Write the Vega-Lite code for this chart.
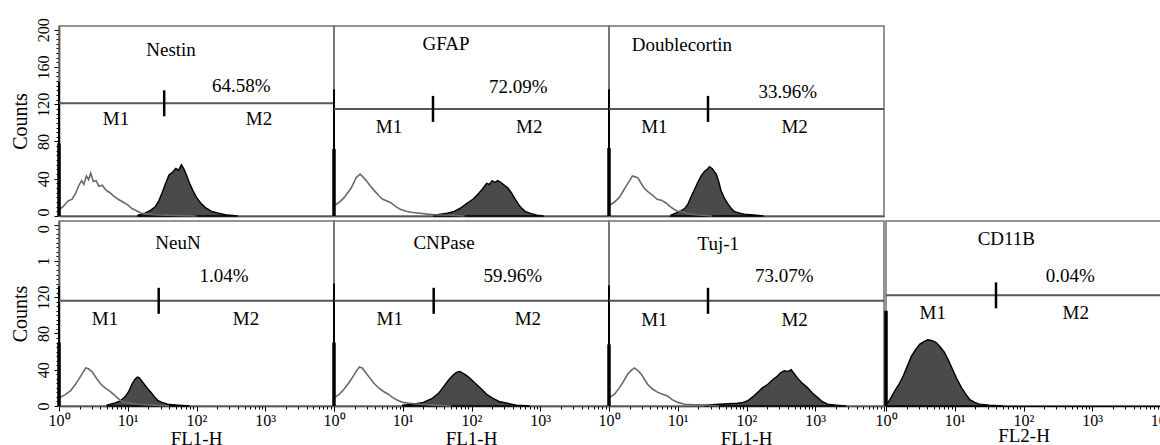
{
  "$schema": "https://vega.github.io/schema/vega-lite/v6.json",
  "background": "white",
  "padding": {"left": 10, "top": 17, "right": 0, "bottom": 0},
  "config": {
    "font": "Liberation Serif",
    "view": {"stroke": "#707070", "strokeWidth": 1.5},
    "axis": {"labelFont": "Liberation Serif", "titleFont": "Liberation Serif", "labelColor": "black", "titleColor": "black", "domainColor": "black", "tickColor": "black", "grid": false, "titleFontWeight": "normal", "labelOverlap": false, "labelBound": false, "labelFlush": false},
    "text": {"font": "Liberation Serif"}
  },
  "datasets": {
    "fc": [
      {"p":"Nestin","k":"c","d":0,"c":7},{"p":"Nestin","k":"c","d":0.06,"c":10},{"p":"Nestin","k":"c","d":0.13,"c":16},{"p":"Nestin","k":"c","d":0.19,"c":18},{"p":"Nestin","k":"c","d":0.24,"c":24},{"p":"Nestin","k":"c","d":0.29,"c":33},{"p":"Nestin","k":"c","d":0.33,"c":38},{"p":"Nestin","k":"c","d":0.36,"c":34},{"p":"Nestin","k":"c","d":0.4,"c":43},{"p":"Nestin","k":"c","d":0.43,"c":39},{"p":"Nestin","k":"c","d":0.46,"c":46},{"p":"Nestin","k":"c","d":0.5,"c":37},{"p":"Nestin","k":"c","d":0.54,"c":38},{"p":"Nestin","k":"c","d":0.58,"c":32},{"p":"Nestin","k":"c","d":0.63,"c":33},{"p":"Nestin","k":"c","d":0.68,"c":28},{"p":"Nestin","k":"c","d":0.74,"c":25},{"p":"Nestin","k":"c","d":0.8,"c":21},{"p":"Nestin","k":"c","d":0.86,"c":18},{"p":"Nestin","k":"c","d":0.93,"c":15},{"p":"Nestin","k":"c","d":1,"c":12},{"p":"Nestin","k":"c","d":1.06,"c":8},{"p":"Nestin","k":"c","d":1.12,"c":6},{"p":"Nestin","k":"c","d":1.2,"c":3},{"p":"Nestin","k":"c","d":1.3,"c":2},{"p":"Nestin","k":"c","d":1.45,"c":1},{"p":"Nestin","k":"c","d":1.7,"c":0.5},{"p":"Nestin","k":"c","d":2,"c":0},
      {"p":"Nestin","k":"s","d":1.15,"c":1},{"p":"Nestin","k":"s","d":1.25,"c":3},{"p":"Nestin","k":"s","d":1.33,"c":6},{"p":"Nestin","k":"s","d":1.4,"c":10},{"p":"Nestin","k":"s","d":1.45,"c":16},{"p":"Nestin","k":"s","d":1.5,"c":25},{"p":"Nestin","k":"s","d":1.55,"c":35},{"p":"Nestin","k":"s","d":1.6,"c":44},{"p":"Nestin","k":"s","d":1.65,"c":47},{"p":"Nestin","k":"s","d":1.7,"c":51},{"p":"Nestin","k":"s","d":1.74,"c":49},{"p":"Nestin","k":"s","d":1.78,"c":55},{"p":"Nestin","k":"s","d":1.82,"c":50},{"p":"Nestin","k":"s","d":1.86,"c":43},{"p":"Nestin","k":"s","d":1.9,"c":35},{"p":"Nestin","k":"s","d":1.95,"c":27},{"p":"Nestin","k":"s","d":2,"c":20},{"p":"Nestin","k":"s","d":2.06,"c":14},{"p":"Nestin","k":"s","d":2.13,"c":9},{"p":"Nestin","k":"s","d":2.22,"c":5},{"p":"Nestin","k":"s","d":2.32,"c":3},{"p":"Nestin","k":"s","d":2.45,"c":1},{"p":"Nestin","k":"s","d":2.6,"c":0},
      {"p":"Nestin","k":"cs","d":0,"c":144},{"p":"Nestin","k":"ss","d":0,"c":78},
      {"p":"Nestin","k":"g","d":1.53,"c":121},
      {"p":"Nestin","k":"t","d":1.63,"c":178,"t":"Nestin"},{"p":"Nestin","k":"t","d":2.65,"c":140,"t":"64.58%"},{"p":"Nestin","k":"t","d":0.83,"c":104,"t":"M1"},{"p":"Nestin","k":"t","d":2.91,"c":104,"t":"M2"},

      {"p":"GFAP","k":"c","d":0,"c":11},{"p":"GFAP","k":"c","d":0.08,"c":15},{"p":"GFAP","k":"c","d":0.15,"c":20},{"p":"GFAP","k":"c","d":0.2,"c":25},{"p":"GFAP","k":"c","d":0.25,"c":30},{"p":"GFAP","k":"c","d":0.29,"c":36},{"p":"GFAP","k":"c","d":0.32,"c":41},{"p":"GFAP","k":"c","d":0.35,"c":43},{"p":"GFAP","k":"c","d":0.38,"c":45},{"p":"GFAP","k":"c","d":0.42,"c":42},{"p":"GFAP","k":"c","d":0.47,"c":38},{"p":"GFAP","k":"c","d":0.52,"c":33},{"p":"GFAP","k":"c","d":0.59,"c":27},{"p":"GFAP","k":"c","d":0.65,"c":22},{"p":"GFAP","k":"c","d":0.71,"c":18},{"p":"GFAP","k":"c","d":0.77,"c":16},{"p":"GFAP","k":"c","d":0.83,"c":14},{"p":"GFAP","k":"c","d":0.9,"c":10},{"p":"GFAP","k":"c","d":0.97,"c":7},{"p":"GFAP","k":"c","d":1.05,"c":5},{"p":"GFAP","k":"c","d":1.12,"c":4},{"p":"GFAP","k":"c","d":1.25,"c":3},{"p":"GFAP","k":"c","d":1.36,"c":2},{"p":"GFAP","k":"c","d":1.5,"c":1},{"p":"GFAP","k":"c","d":1.65,"c":1},{"p":"GFAP","k":"c","d":1.9,"c":0},
      {"p":"GFAP","k":"s","d":1.45,"c":1},{"p":"GFAP","k":"s","d":1.55,"c":2},{"p":"GFAP","k":"s","d":1.65,"c":3},{"p":"GFAP","k":"s","d":1.75,"c":5},{"p":"GFAP","k":"s","d":1.85,"c":9},{"p":"GFAP","k":"s","d":1.94,"c":14},{"p":"GFAP","k":"s","d":2.02,"c":18},{"p":"GFAP","k":"s","d":2.09,"c":23},{"p":"GFAP","k":"s","d":2.16,"c":29},{"p":"GFAP","k":"s","d":2.22,"c":35},{"p":"GFAP","k":"s","d":2.26,"c":34},{"p":"GFAP","k":"s","d":2.3,"c":38},{"p":"GFAP","k":"s","d":2.34,"c":36},{"p":"GFAP","k":"s","d":2.38,"c":38},{"p":"GFAP","k":"s","d":2.43,"c":36},{"p":"GFAP","k":"s","d":2.48,"c":33},{"p":"GFAP","k":"s","d":2.53,"c":30},{"p":"GFAP","k":"s","d":2.58,"c":25},{"p":"GFAP","k":"s","d":2.62,"c":20},{"p":"GFAP","k":"s","d":2.67,"c":14},{"p":"GFAP","k":"s","d":2.72,"c":9},{"p":"GFAP","k":"s","d":2.78,"c":5},{"p":"GFAP","k":"s","d":2.85,"c":3},{"p":"GFAP","k":"s","d":2.95,"c":1},{"p":"GFAP","k":"s","d":3.05,"c":0},
      {"p":"GFAP","k":"cs","d":0,"c":136},{"p":"GFAP","k":"ss","d":0,"c":72},
      {"p":"GFAP","k":"g","d":1.44,"c":115},
      {"p":"GFAP","k":"t","d":1.63,"c":185,"t":"GFAP"},{"p":"GFAP","k":"t","d":2.68,"c":139,"t":"72.09%"},{"p":"GFAP","k":"t","d":0.8,"c":96,"t":"M1"},{"p":"GFAP","k":"t","d":2.84,"c":96,"t":"M2"},

      {"p":"Doublecortin","k":"c","d":0,"c":11},{"p":"Doublecortin","k":"c","d":0.08,"c":15},{"p":"Doublecortin","k":"c","d":0.15,"c":20},{"p":"Doublecortin","k":"c","d":0.2,"c":26},{"p":"Doublecortin","k":"c","d":0.25,"c":32},{"p":"Doublecortin","k":"c","d":0.3,"c":38},{"p":"Doublecortin","k":"c","d":0.34,"c":43},{"p":"Doublecortin","k":"c","d":0.38,"c":42},{"p":"Doublecortin","k":"c","d":0.42,"c":41},{"p":"Doublecortin","k":"c","d":0.46,"c":36},{"p":"Doublecortin","k":"c","d":0.51,"c":30},{"p":"Doublecortin","k":"c","d":0.57,"c":26},{"p":"Doublecortin","k":"c","d":0.64,"c":22},{"p":"Doublecortin","k":"c","d":0.7,"c":18},{"p":"Doublecortin","k":"c","d":0.76,"c":17},{"p":"Doublecortin","k":"c","d":0.83,"c":14},{"p":"Doublecortin","k":"c","d":0.89,"c":10},{"p":"Doublecortin","k":"c","d":0.95,"c":7},{"p":"Doublecortin","k":"c","d":1,"c":5},{"p":"Doublecortin","k":"c","d":1.05,"c":5},{"p":"Doublecortin","k":"c","d":1.12,"c":3},{"p":"Doublecortin","k":"c","d":1.19,"c":2},{"p":"Doublecortin","k":"c","d":1.3,"c":1},{"p":"Doublecortin","k":"c","d":1.5,"c":0},
      {"p":"Doublecortin","k":"s","d":0.9,"c":1},{"p":"Doublecortin","k":"s","d":0.97,"c":3},{"p":"Doublecortin","k":"s","d":1.03,"c":5},{"p":"Doublecortin","k":"s","d":1.1,"c":8},{"p":"Doublecortin","k":"s","d":1.15,"c":13},{"p":"Doublecortin","k":"s","d":1.19,"c":20},{"p":"Doublecortin","k":"s","d":1.24,"c":28},{"p":"Doublecortin","k":"s","d":1.29,"c":36},{"p":"Doublecortin","k":"s","d":1.34,"c":43},{"p":"Doublecortin","k":"s","d":1.39,"c":48},{"p":"Doublecortin","k":"s","d":1.43,"c":50},{"p":"Doublecortin","k":"s","d":1.46,"c":53},{"p":"Doublecortin","k":"s","d":1.5,"c":51},{"p":"Doublecortin","k":"s","d":1.53,"c":48},{"p":"Doublecortin","k":"s","d":1.56,"c":45},{"p":"Doublecortin","k":"s","d":1.6,"c":36},{"p":"Doublecortin","k":"s","d":1.63,"c":27},{"p":"Doublecortin","k":"s","d":1.68,"c":19},{"p":"Doublecortin","k":"s","d":1.73,"c":13},{"p":"Doublecortin","k":"s","d":1.78,"c":8},{"p":"Doublecortin","k":"s","d":1.82,"c":5},{"p":"Doublecortin","k":"s","d":1.9,"c":3},{"p":"Doublecortin","k":"s","d":1.97,"c":2},{"p":"Doublecortin","k":"s","d":2.1,"c":1},{"p":"Doublecortin","k":"s","d":2.25,"c":0},
      {"p":"Doublecortin","k":"cs","d":0,"c":136},{"p":"Doublecortin","k":"ss","d":0,"c":73},
      {"p":"Doublecortin","k":"g","d":1.44,"c":115},
      {"p":"Doublecortin","k":"t","d":1.06,"c":184,"t":"Doublecortin"},{"p":"Doublecortin","k":"t","d":2.6,"c":133,"t":"33.96%"},{"p":"Doublecortin","k":"t","d":0.66,"c":96,"t":"M1"},{"p":"Doublecortin","k":"t","d":2.7,"c":96,"t":"M2"},

      {"p":"NeuN","k":"c","d":0,"c":9},{"p":"NeuN","k":"c","d":0.08,"c":12},{"p":"NeuN","k":"c","d":0.17,"c":17},{"p":"NeuN","k":"c","d":0.24,"c":24},{"p":"NeuN","k":"c","d":0.3,"c":31},{"p":"NeuN","k":"c","d":0.35,"c":37},{"p":"NeuN","k":"c","d":0.39,"c":42},{"p":"NeuN","k":"c","d":0.43,"c":41},{"p":"NeuN","k":"c","d":0.49,"c":37},{"p":"NeuN","k":"c","d":0.55,"c":30},{"p":"NeuN","k":"c","d":0.61,"c":24},{"p":"NeuN","k":"c","d":0.67,"c":20},{"p":"NeuN","k":"c","d":0.73,"c":17},{"p":"NeuN","k":"c","d":0.79,"c":13},{"p":"NeuN","k":"c","d":0.85,"c":9},{"p":"NeuN","k":"c","d":0.9,"c":6},{"p":"NeuN","k":"c","d":0.95,"c":4},{"p":"NeuN","k":"c","d":1.05,"c":3},{"p":"NeuN","k":"c","d":1.14,"c":2},{"p":"NeuN","k":"c","d":1.38,"c":1},{"p":"NeuN","k":"c","d":1.6,"c":0},
      {"p":"NeuN","k":"s","d":0.7,"c":1},{"p":"NeuN","k":"s","d":0.8,"c":3},{"p":"NeuN","k":"s","d":0.9,"c":6},{"p":"NeuN","k":"s","d":0.97,"c":11},{"p":"NeuN","k":"s","d":1.02,"c":17},{"p":"NeuN","k":"s","d":1.06,"c":24},{"p":"NeuN","k":"s","d":1.1,"c":29},{"p":"NeuN","k":"s","d":1.14,"c":32},{"p":"NeuN","k":"s","d":1.17,"c":31},{"p":"NeuN","k":"s","d":1.2,"c":28},{"p":"NeuN","k":"s","d":1.24,"c":24},{"p":"NeuN","k":"s","d":1.29,"c":19},{"p":"NeuN","k":"s","d":1.34,"c":15},{"p":"NeuN","k":"s","d":1.39,"c":10},{"p":"NeuN","k":"s","d":1.44,"c":6},{"p":"NeuN","k":"s","d":1.5,"c":4},{"p":"NeuN","k":"s","d":1.58,"c":2},{"p":"NeuN","k":"s","d":1.73,"c":1},{"p":"NeuN","k":"s","d":1.9,"c":0},
      {"p":"NeuN","k":"cs","d":0,"c":132},{"p":"NeuN","k":"ss","d":0,"c":70},
      {"p":"NeuN","k":"g","d":1.45,"c":116},
      {"p":"NeuN","k":"t","d":1.73,"c":180,"t":"NeuN"},{"p":"NeuN","k":"t","d":2.4,"c":143,"t":"1.04%"},{"p":"NeuN","k":"t","d":0.67,"c":96,"t":"M1"},{"p":"NeuN","k":"t","d":2.72,"c":96,"t":"M2"},

      {"p":"CNPase","k":"c","d":0,"c":9},{"p":"CNPase","k":"c","d":0.08,"c":13},{"p":"CNPase","k":"c","d":0.15,"c":19},{"p":"CNPase","k":"c","d":0.22,"c":26},{"p":"CNPase","k":"c","d":0.28,"c":33},{"p":"CNPase","k":"c","d":0.33,"c":39},{"p":"CNPase","k":"c","d":0.37,"c":43},{"p":"CNPase","k":"c","d":0.41,"c":42},{"p":"CNPase","k":"c","d":0.46,"c":37},{"p":"CNPase","k":"c","d":0.52,"c":31},{"p":"CNPase","k":"c","d":0.58,"c":25},{"p":"CNPase","k":"c","d":0.65,"c":20},{"p":"CNPase","k":"c","d":0.72,"c":16},{"p":"CNPase","k":"c","d":0.79,"c":13},{"p":"CNPase","k":"c","d":0.86,"c":9},{"p":"CNPase","k":"c","d":0.93,"c":6},{"p":"CNPase","k":"c","d":1,"c":4},{"p":"CNPase","k":"c","d":1.1,"c":3},{"p":"CNPase","k":"c","d":1.25,"c":2},{"p":"CNPase","k":"c","d":1.45,"c":1},{"p":"CNPase","k":"c","d":1.7,"c":0},
      {"p":"CNPase","k":"s","d":1,"c":1},{"p":"CNPase","k":"s","d":1.15,"c":2},{"p":"CNPase","k":"s","d":1.3,"c":4},{"p":"CNPase","k":"s","d":1.42,"c":8},{"p":"CNPase","k":"s","d":1.52,"c":14},{"p":"CNPase","k":"s","d":1.6,"c":22},{"p":"CNPase","k":"s","d":1.67,"c":29},{"p":"CNPase","k":"s","d":1.73,"c":34},{"p":"CNPase","k":"s","d":1.78,"c":37},{"p":"CNPase","k":"s","d":1.83,"c":38},{"p":"CNPase","k":"s","d":1.88,"c":36},{"p":"CNPase","k":"s","d":1.94,"c":33},{"p":"CNPase","k":"s","d":2,"c":29},{"p":"CNPase","k":"s","d":2.07,"c":24},{"p":"CNPase","k":"s","d":2.14,"c":19},{"p":"CNPase","k":"s","d":2.22,"c":13},{"p":"CNPase","k":"s","d":2.3,"c":9},{"p":"CNPase","k":"s","d":2.4,"c":5},{"p":"CNPase","k":"s","d":2.52,"c":3},{"p":"CNPase","k":"s","d":2.65,"c":1},{"p":"CNPase","k":"s","d":2.85,"c":0},
      {"p":"CNPase","k":"cs","d":0,"c":135},{"p":"CNPase","k":"ss","d":0,"c":70},
      {"p":"CNPase","k":"g","d":1.45,"c":116},
      {"p":"CNPase","k":"t","d":1.6,"c":180,"t":"CNPase"},{"p":"CNPase","k":"t","d":2.6,"c":143,"t":"59.96%"},{"p":"CNPase","k":"t","d":0.81,"c":96,"t":"M1"},{"p":"CNPase","k":"t","d":2.82,"c":96,"t":"M2"},

      {"p":"Tuj-1","k":"c","d":0,"c":9},{"p":"Tuj-1","k":"c","d":0.08,"c":13},{"p":"Tuj-1","k":"c","d":0.15,"c":20},{"p":"Tuj-1","k":"c","d":0.21,"c":27},{"p":"Tuj-1","k":"c","d":0.27,"c":35},{"p":"Tuj-1","k":"c","d":0.32,"c":39},{"p":"Tuj-1","k":"c","d":0.37,"c":42},{"p":"Tuj-1","k":"c","d":0.42,"c":39},{"p":"Tuj-1","k":"c","d":0.47,"c":35},{"p":"Tuj-1","k":"c","d":0.52,"c":29},{"p":"Tuj-1","k":"c","d":0.56,"c":24},{"p":"Tuj-1","k":"c","d":0.63,"c":19},{"p":"Tuj-1","k":"c","d":0.71,"c":15},{"p":"Tuj-1","k":"c","d":0.78,"c":13},{"p":"Tuj-1","k":"c","d":0.85,"c":11},{"p":"Tuj-1","k":"c","d":0.92,"c":7},{"p":"Tuj-1","k":"c","d":1,"c":4},{"p":"Tuj-1","k":"c","d":1.1,"c":2},{"p":"Tuj-1","k":"c","d":1.2,"c":1.5},{"p":"Tuj-1","k":"c","d":1.4,"c":1},{"p":"Tuj-1","k":"c","d":1.6,"c":0},
      {"p":"Tuj-1","k":"s","d":1.4,"c":1},{"p":"Tuj-1","k":"s","d":1.6,"c":2},{"p":"Tuj-1","k":"s","d":1.87,"c":3},{"p":"Tuj-1","k":"s","d":1.95,"c":4},{"p":"Tuj-1","k":"s","d":2.02,"c":6},{"p":"Tuj-1","k":"s","d":2.09,"c":10},{"p":"Tuj-1","k":"s","d":2.16,"c":15},{"p":"Tuj-1","k":"s","d":2.23,"c":20},{"p":"Tuj-1","k":"s","d":2.31,"c":24},{"p":"Tuj-1","k":"s","d":2.38,"c":29},{"p":"Tuj-1","k":"s","d":2.45,"c":33},{"p":"Tuj-1","k":"s","d":2.5,"c":37},{"p":"Tuj-1","k":"s","d":2.55,"c":39},{"p":"Tuj-1","k":"s","d":2.6,"c":38},{"p":"Tuj-1","k":"s","d":2.65,"c":40},{"p":"Tuj-1","k":"s","d":2.7,"c":35},{"p":"Tuj-1","k":"s","d":2.74,"c":31},{"p":"Tuj-1","k":"s","d":2.8,"c":26},{"p":"Tuj-1","k":"s","d":2.89,"c":20},{"p":"Tuj-1","k":"s","d":2.96,"c":14},{"p":"Tuj-1","k":"s","d":3.04,"c":9},{"p":"Tuj-1","k":"s","d":3.1,"c":5},{"p":"Tuj-1","k":"s","d":3.18,"c":2},{"p":"Tuj-1","k":"s","d":3.3,"c":1},{"p":"Tuj-1","k":"s","d":3.45,"c":0},
      {"p":"Tuj-1","k":"cs","d":0,"c":133},{"p":"Tuj-1","k":"ss","d":0,"c":68},
      {"p":"Tuj-1","k":"g","d":1.44,"c":116},
      {"p":"Tuj-1","k":"t","d":1.59,"c":179,"t":"Tuj-1"},{"p":"Tuj-1","k":"t","d":2.55,"c":143,"t":"73.07%"},{"p":"Tuj-1","k":"t","d":0.66,"c":95,"t":"M1"},{"p":"Tuj-1","k":"t","d":2.7,"c":95,"t":"M2"},

      {"p":"CD11B","k":"s","d":0,"c":2},{"p":"CD11B","k":"s","d":0.03,"c":4},{"p":"CD11B","k":"s","d":0.08,"c":10},{"p":"CD11B","k":"s","d":0.13,"c":17},{"p":"CD11B","k":"s","d":0.19,"c":24},{"p":"CD11B","k":"s","d":0.25,"c":33},{"p":"CD11B","k":"s","d":0.31,"c":44},{"p":"CD11B","k":"s","d":0.37,"c":55},{"p":"CD11B","k":"s","d":0.43,"c":62},{"p":"CD11B","k":"s","d":0.49,"c":68},{"p":"CD11B","k":"s","d":0.55,"c":71},{"p":"CD11B","k":"s","d":0.61,"c":73},{"p":"CD11B","k":"s","d":0.67,"c":72},{"p":"CD11B","k":"s","d":0.73,"c":70},{"p":"CD11B","k":"s","d":0.79,"c":65},{"p":"CD11B","k":"s","d":0.85,"c":59},{"p":"CD11B","k":"s","d":0.91,"c":50},{"p":"CD11B","k":"s","d":0.97,"c":40},{"p":"CD11B","k":"s","d":1.03,"c":30},{"p":"CD11B","k":"s","d":1.1,"c":20},{"p":"CD11B","k":"s","d":1.16,"c":13},{"p":"CD11B","k":"s","d":1.22,"c":7},{"p":"CD11B","k":"s","d":1.29,"c":4},{"p":"CD11B","k":"s","d":1.36,"c":2},{"p":"CD11B","k":"s","d":1.5,"c":1},{"p":"CD11B","k":"s","d":1.7,"c":0},
      {"p":"CD11B","k":"ss","d":0,"c":105},
      {"p":"CD11B","k":"g","d":1.6,"c":122},
      {"p":"CD11B","k":"t","d":1.75,"c":184,"t":"CD11B"},{"p":"CD11B","k":"t","d":2.68,"c":143,"t":"0.04%"},{"p":"CD11B","k":"t","d":0.68,"c":103,"t":"M1"},{"p":"CD11B","k":"t","d":2.76,"c":103,"t":"M2"}
    ]
  },
  "spacing": 0,
  "vconcat": [
    {
      "data": {"name": "fc"},
      "transform": [{"filter": "indexof(['Nestin','GFAP','Doublecortin'], datum.p) >= 0"}],
      "facet": {"column": {"field": "p", "type": "nominal", "sort": ["Nestin", "GFAP", "Doublecortin"], "title": null, "header": {"labels": false}}},
      "spacing": 0,
      "bounds": "flush",
      "spec": {
        "width": 275,
        "height": 190,
        "layer": [
          {
            "transform": [{"filter": "datum.k == 's'"}],
            "mark": {"type": "area", "color": "#4a4a4a", "stroke": "black", "strokeWidth": 1.4},
            "encoding": {
              "x": {"field": "d", "type": "quantitative", "title": null, "scale": {"domain": [0, 4], "nice": false, "zero": false}, "axis": {"labels": false, "ticks": false, "domainWidth": 1.5}},
              "y": {"field": "c", "type": "quantitative", "title": "Counts", "scale": {"domain": [0, 204], "nice": false},
                "axis": {"values": [0,5,10,15,20,25,30,35,40,45,50,55,60,65,70,75,80,85,90,95,100,105,110,115,120,125,130,135,140,145,150,155,160,165,170,175,180,185,190,195,200], "tickCount": 1000, "format": "d",
                  "labelExpr": "datum.value % 40 == 0 ? datum.label : ''", "labelAngle": 270, "labelFontSize": 16, "labelPadding": 3, "labelOverlap": false, "labelBound": false, "labelFlush": false,
                  "labelAlign": {"condition": {"test": "datum.value == 0", "value": "left"}, "value": "center"},
                  "tickSize": {"condition": {"test": "datum.value % 40 == 0", "value": 5}, "value": 3},
                  "titleFontSize": 20, "titlePadding": 5, "domainWidth": 1.5}}
            }
          },
          {
            "transform": [{"filter": "datum.k == 'c'"}],
            "mark": {"type": "line", "color": "#6a6a6a", "strokeWidth": 1.6},
            "encoding": {"x": {"field": "d", "type": "quantitative", "title": null}, "y": {"field": "c", "type": "quantitative", "title": "Counts"}}
          },
          {
            "transform": [{"filter": "datum.k == 'cs' || datum.k == 'ss'"}],
            "mark": {"type": "rule", "color": "black"},
            "encoding": {
              "x": {"field": "d", "type": "quantitative", "title": null},
              "y": {"field": "c", "type": "quantitative", "title": "Counts"},
              "y2": {"datum": 0},
              "strokeWidth": {"field": "k", "type": "nominal", "scale": {"domain": ["cs", "ss"], "range": [2, 3.5]}, "legend": null}
            }
          },
          {
            "transform": [{"filter": "datum.k == 'g'"}],
            "mark": {"type": "rule", "color": "#555555", "strokeWidth": 2},
            "encoding": {"y": {"field": "c", "type": "quantitative", "title": "Counts"}}
          },
          {
            "transform": [{"filter": "datum.k == 'g'"}],
            "mark": {"type": "tick", "orient": "vertical", "size": 26, "thickness": 2.5, "color": "black", "opacity": 1},
            "encoding": {"x": {"field": "d", "type": "quantitative", "title": null}, "y": {"field": "c", "type": "quantitative", "title": "Counts"}}
          },
          {
            "transform": [{"filter": "datum.k == 't'"}],
            "mark": {"type": "text", "fontSize": 19, "color": "black", "align": "center", "baseline": "middle"},
            "encoding": {"x": {"field": "d", "type": "quantitative", "title": null}, "y": {"field": "c", "type": "quantitative", "title": "Counts"}, "text": {"field": "t"}}
          }
        ]
      }
    },
    {
      "spacing": -16,
      "hconcat": [
        {
          "data": {"name": "fc"},
          "transform": [{"filter": "indexof(['NeuN','CNPase','Tuj-1'], datum.p) >= 0"}],
          "facet": {"column": {"field": "p", "type": "nominal", "sort": ["NeuN", "CNPase", "Tuj-1"], "title": null,
            "header": {"orient": "bottom", "labelOrient": "bottom", "labelExpr": "'FL1-H'", "labelFont": "Liberation Serif", "labelFontSize": 19, "labelColor": "black", "labelPadding": 2}}},
          "spacing": 0,
          "bounds": "flush",
          "spec": {
            "width": 275,
            "height": 185,
            "layer": [
              {
                "transform": [{"filter": "datum.k == 's'"}],
                "mark": {"type": "area", "color": "#4a4a4a", "stroke": "black", "strokeWidth": 1.4},
                "encoding": {
                  "x": {"field": "d", "type": "quantitative", "title": null, "scale": {"domain": [0, 4], "nice": false, "zero": false},
                    "axis": {"values": [0,0.301,0.477,0.602,0.699,0.778,0.845,0.903,0.954,1,1.301,1.477,1.602,1.699,1.778,1.845,1.903,1.954,2,2.301,2.477,2.602,2.699,2.778,2.845,2.903,2.954,3,3.301,3.477,3.602,3.699,3.778,3.845,3.903,3.954,4], "tickCount": 1000,
                      "labelExpr": "datum.value % 1 == 0 && datum.value < 4 ? '10' + ['⁰','¹','²','³'][datum.value] : ''", "labelFontSize": 16, "labelPadding": 1, "labelOverlap": false, "labelBound": false, "labelFlush": false,
                      "tickSize": {"condition": {"test": "datum.value % 1 == 0", "value": 5}, "value": 3}, "domainWidth": 1.5}},
                  "y": {"field": "c", "type": "quantitative", "title": "Counts", "scale": {"domain": [0, 204], "nice": false},
                    "axis": {"values": [0,5,10,15,20,25,30,35,40,45,50,55,60,65,70,75,80,85,90,95,100,105,110,115,120,125,130,135,140,145,150,155,160,165,170,175,180,185,190,195,200], "tickCount": 1000, "format": "d",
                      "labelExpr": "datum.value == 160 ? '1' : datum.value == 200 ? '0' : datum.value % 40 == 0 ? datum.label : ''", "labelAngle": 270, "labelFontSize": 16, "labelPadding": 3, "labelOverlap": false, "labelBound": false, "labelFlush": false,
                      "labelAlign": {"condition": {"test": "datum.value == 200", "value": "right"}, "value": "center"},
                      "tickSize": {"condition": {"test": "datum.value % 40 == 0", "value": 5}, "value": 3},
                      "titleFontSize": 20, "titlePadding": 5, "domainWidth": 1.5}}
                }
              },
              {
                "transform": [{"filter": "datum.k == 'c'"}],
                "mark": {"type": "line", "color": "#6a6a6a", "strokeWidth": 1.6},
                "encoding": {"x": {"field": "d", "type": "quantitative", "title": null}, "y": {"field": "c", "type": "quantitative", "title": "Counts"}}
              },
              {
                "transform": [{"filter": "datum.k == 'cs' || datum.k == 'ss'"}],
                "mark": {"type": "rule", "color": "black"},
                "encoding": {
                  "x": {"field": "d", "type": "quantitative", "title": null},
                  "y": {"field": "c", "type": "quantitative", "title": "Counts"},
                  "y2": {"datum": 0},
                  "strokeWidth": {"field": "k", "type": "nominal", "scale": {"domain": ["cs", "ss"], "range": [2, 3.5]}, "legend": null}
                }
              },
              {
                "transform": [{"filter": "datum.k == 'g'"}],
                "mark": {"type": "rule", "color": "#555555", "strokeWidth": 2},
                "encoding": {"y": {"field": "c", "type": "quantitative", "title": "Counts"}}
              },
              {
                "transform": [{"filter": "datum.k == 'g'"}],
                "mark": {"type": "tick", "orient": "vertical", "size": 26, "thickness": 2.5, "color": "black", "opacity": 1},
                "encoding": {"x": {"field": "d", "type": "quantitative", "title": null}, "y": {"field": "c", "type": "quantitative", "title": "Counts"}}
              },
              {
                "transform": [{"filter": "datum.k == 't'"}],
                "mark": {"type": "text", "fontSize": 19, "color": "black", "align": "center", "baseline": "middle"},
                "encoding": {"x": {"field": "d", "type": "quantitative", "title": null}, "y": {"field": "c", "type": "quantitative", "title": "Counts"}, "text": {"field": "t"}}
              }
            ]
          }
        },
        {
          "data": {"name": "fc"},
          "transform": [{"filter": "datum.p == 'CD11B'"}],
          "width": 275,
          "height": 185,
          "layer": [
            {
              "transform": [{"filter": "datum.k == 's'"}],
              "mark": {"type": "area", "color": "#4a4a4a", "stroke": "black", "strokeWidth": 1.4},
              "encoding": {
                "x": {"field": "d", "type": "quantitative", "title": "FL2-H", "scale": {"domain": [0, 4], "nice": false, "zero": false},
                  "axis": {"values": [0,0.301,0.477,0.602,0.699,0.778,0.845,0.903,0.954,1,1.301,1.477,1.602,1.699,1.778,1.845,1.903,1.954,2,2.301,2.477,2.602,2.699,2.778,2.845,2.903,2.954,3,3.301,3.477,3.602,3.699,3.778,3.845,3.903,3.954,4], "tickCount": 1000,
                    "labelExpr": "datum.value % 1 == 0 ? '10' + ['⁰','¹','²','³','⁴'][datum.value] : ''", "labelFontSize": 16, "labelPadding": 1, "labelOverlap": false, "labelBound": false, "labelFlush": false,
                    "tickSize": {"condition": {"test": "datum.value % 1 == 0", "value": 5}, "value": 3}, "domainWidth": 1.5,
                    "titleFontSize": 19, "titlePadding": -2}},
                "y": {"field": "c", "type": "quantitative", "title": null, "scale": {"domain": [0, 204], "nice": false}, "axis": null}
              }
            },
            {
              "transform": [{"filter": "datum.k == 'ss'"}],
              "mark": {"type": "rule", "color": "black", "strokeWidth": 3.5},
              "encoding": {
                "x": {"field": "d", "type": "quantitative", "title": "FL2-H"},
                "y": {"field": "c", "type": "quantitative", "title": null},
                "y2": {"datum": 0}
              }
            },
            {
              "transform": [{"filter": "datum.k == 'g'"}],
              "mark": {"type": "rule", "color": "#555555", "strokeWidth": 2},
              "encoding": {"y": {"field": "c", "type": "quantitative", "title": null}}
            },
            {
              "transform": [{"filter": "datum.k == 'g'"}],
              "mark": {"type": "tick", "orient": "vertical", "size": 26, "thickness": 2.5, "color": "black", "opacity": 1},
              "encoding": {"x": {"field": "d", "type": "quantitative", "title": "FL2-H"}, "y": {"field": "c", "type": "quantitative", "title": null}}
            },
            {
              "transform": [{"filter": "datum.k == 't'"}],
              "mark": {"type": "text", "fontSize": 19, "color": "black", "align": "center", "baseline": "middle"},
              "encoding": {"x": {"field": "d", "type": "quantitative", "title": "FL2-H"}, "y": {"field": "c", "type": "quantitative", "title": null}, "text": {"field": "t"}}
            }
          ]
        }
      ]
    }
  ]
}
